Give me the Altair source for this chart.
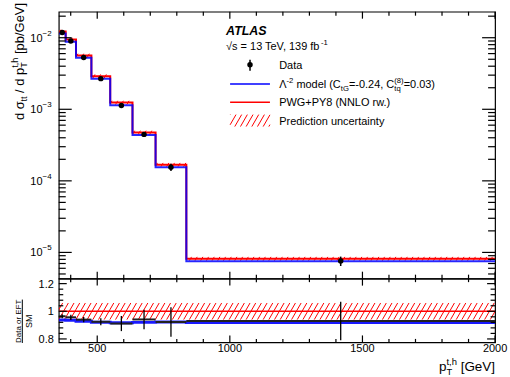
import altair as alt
import numpy as np
import pandas as pd

FONT = "Liberation Sans"

# ---- binning in p_T^{t,h} and cross sections [pb/GeV] ----
edges = [355, 381, 420, 478, 549, 633, 720, 836, 2000]
data_xs = [0.0118, 0.0090, 0.0053, 0.00268, 0.00113, 4.46e-4, 1.55e-4, 7.6e-6]
data_rel_err = [0.015, 0.020, 0.020, 0.027, 0.060, 0.075, 0.115, 0.150]
sm_xs = [0.01224, 0.00941, 0.00564, 0.00290, 0.00124, 4.74e-4, 1.68e-4, 8.17e-6]
sm_rel_unc = [0.06, 0.06, 0.06, 0.06, 0.06, 0.06, 0.06, 0.06]
eft_xs = [0.01147, 0.00880, 0.00523, 0.00267, 0.001138, 4.36e-4, 1.55e-4, 7.50e-6]

# ---- axis ticks and labels ----
x_major = [500, 1000, 1500, 2000]
x_minor = [400, 600, 700, 800, 900, 1100, 1200, 1300, 1400, 1600, 1700, 1800, 1900]
x_label_vals = [500, 1000, 1500, 2000]
x_label_text = ["500", "1000", "1500", "2000"]
y_major = [1e-5, 1e-4, 1e-3, 1e-2]
y_major_exp = ["\u22125", "\u22124", "\u22123", "\u22122"]
y_minor = [5e-6, 6e-6, 7e-6, 8e-6, 9e-6,
           2e-5, 3e-5, 4e-5, 5e-5, 6e-5, 7e-5, 8e-5, 9e-5,
           2e-4, 3e-4, 4e-4, 5e-4, 6e-4, 7e-4, 8e-4, 9e-4,
           2e-3, 3e-3, 4e-3, 5e-3, 6e-3, 7e-3, 8e-3, 9e-3,
           2e-2]
r_major = [0.8, 1.0, 1.2]
r_major_text = ["0.8", "1", "1.2"]
r_minor = [0.84, 0.88, 0.92, 0.96, 1.04, 1.08, 1.12, 1.16]

# ---- panel geometry ----
W, H, RH = 438, 268, 64
X_DOM = [355, 2000]
Y_DOM = [4.3e-6, 0.0231]
R_DOM = [0.775, 1.236]

XS = alt.Scale(domain=X_DOM, nice=False, zero=False)
YS = alt.Scale(type="log", domain=Y_DOM, nice=False)
RS = alt.Scale(domain=R_DOM, nice=False, zero=False)

RED = "#ff0000"
BLUE = "#0000ff"
ONE = pd.DataFrame({"k": [0]})

# ---- text helpers (Arial-metric advance widths, per em) ----
CW = {" ": .278, "(": .333, ")": .333, "+": .584, ",": .278, "-": .333,
      ".": .278, "/": .278, "=": .584, "[": .278, "]": .278, "\u2212": .584,
      "\u039b": .667, "\u03c3": .6, "\u221a": .45,
      "A": .667, "C": .722, "D": .722, "E": .667, "F": .611, "G": .778, "L": .556,
      "M": .833, "N": .722, "O": .778, "P": .667, "S": .667, "T": .611, "V": .667,
      "W": .944, "Y": .667,
      "a": .556, "b": .556, "c": .5, "d": .556, "e": .556, "f": .278, "g": .556,
      "h": .556, "i": .222, "k": .5, "l": .222, "m": .833, "n": .556, "o": .556,
      "p": .556, "q": .556, "r": .333, "s": .5, "t": .278, "u": .556, "v": .5,
      "w": .722, "x": .5, "y": .5}


def text_width(s, size):
    return sum(CW.get(ch, 0.556) for ch in s) * size


def piece(text, x, y, size, angle=0, weight="normal", style="normal",
          align="left", baseline="alphabetic", color="black"):
    return alt.Chart(ONE).mark_text(
        text=text, fontSize=size, font=FONT, angle=angle, fontWeight=weight,
        fontStyle=style, align=align, baseline=baseline, color=color,
    ).encode(x=alt.value(x), y=alt.value(y))


def rich_items(parts, size):
    ss = size * 0.7
    out = []
    for p in parts:
        kind = p[0]
        if kind == "n":
            out.append(([(p[1], size, 0.0)], text_width(p[1], size)))
        elif kind == "sub":
            out.append(([(p[1], ss, size * 0.3)], text_width(p[1], ss)))
        elif kind == "sup":
            out.append(([(p[1], ss, -size * 0.42)], text_width(p[1], ss)))
        else:  # stacked sub + sup
            out.append(([(p[1], ss, size * 0.3), (p[2], ss, -size * 0.45)],
                        max(text_width(p[1], ss), text_width(p[2], ss))))
    return out


def rich_width(parts, size):
    return sum(w for _, w in rich_items(parts, size))


def rich(parts, x, y, size, angle=0):
    """Lay out text runs with sub/superscripts; leading blanks become an offset."""
    layers, adv = [], 0.0
    for items, w in rich_items(parts, size):
        for t, s, off in items:
            stripped = t.lstrip(" ")
            lead = text_width(t[: len(t) - len(stripped)], s)
            stripped = stripped.rstrip(" ")
            if angle == 0:
                layers.append(piece(stripped, x + adv + lead, y + off, s))
            else:  # reads bottom-to-top
                layers.append(piece(stripped, x + off, y - adv - lead, s, angle=270))
        adv += w
    return layers


# ---- pixel mapping, used to lay out the hatching of uncertainty bands ----
def px_x(v):
    return (v - X_DOM[0]) / (X_DOM[1] - X_DOM[0]) * W


def inv_x(p):
    return X_DOM[0] + p / W * (X_DOM[1] - X_DOM[0])


LY0, LY1 = np.log10(Y_DOM[0]), np.log10(Y_DOM[1])


def px_log(v):
    return H * (LY1 - np.log10(v)) / (LY1 - LY0)


def inv_log(p):
    return 10 ** (LY1 - p / H * (LY1 - LY0))


def px_lin(v):
    return RH * (R_DOM[1] - v) / (R_DOM[1] - R_DOM[0])


def inv_lin(p):
    return R_DOM[1] - p / RH * (R_DOM[1] - R_DOM[0])


SP = 5.7                      # hatch spacing in px
SLOPE = np.tan(np.radians(60))


def hatch_segments(xl, xr, ytop, ybot):
    """Clip '/' hatch lines to the pixel box [xl,xr] x [ytop,ybot]."""
    dx = (ybot - ytop) / SLOPE
    segs = []
    k0 = int(np.floor((xl - dx) / SP)) - 1
    k1 = int(np.ceil(xr / SP)) + 1
    for k in range(k0, k1 + 1):
        p = k * SP
        t0 = max(0.0, (xl - p) / dx)
        t1 = min(1.0, (xr - p) / dx)
        if t1 - t0 > 1e-6:
            segs.append((p + t0 * dx, ybot - t0 * (ybot - ytop),
                         p + t1 * dx, ybot - t1 * (ybot - ytop)))
    return segs


# ---- derived tables ----
centers = [(a + b) / 2 for a, b in zip(edges[:-1], edges[1:])]
bins = pd.DataFrame({
    "lo": edges[:-1], "hi": edges[1:], "c": centers,
    "data": data_xs,
    "dlo": [d * (1 - e) for d, e in zip(data_xs, data_rel_err)],
    "dhi": [d * (1 + e) for d, e in zip(data_xs, data_rel_err)],
    "r": [d / s for d, s in zip(data_xs, sm_xs)],
    "rlo": [d / s - d * e / s for d, s, e in zip(data_xs, sm_xs, data_rel_err)],
    "rhi": [d / s + d * e / s for d, s, e in zip(data_xs, sm_xs, data_rel_err)],
})
steps = pd.DataFrame({
    "x": edges,
    "sm": sm_xs + [sm_xs[-1]],
    "eft": eft_xs + [eft_xs[-1]],
    "one": [s / s for s in sm_xs] + [1.0],
    "reft": [e / s for e, s in zip(eft_xs, sm_xs)] + [eft_xs[-1] / sm_xs[-1]],
})

main_hatch, ratio_hatch = [], []
for lo, hi, s, u in zip(edges[:-1], edges[1:], sm_xs, sm_rel_unc):
    for a, b, c, d in hatch_segments(px_x(lo), px_x(hi),
                                     px_log(s * (1 + u)), px_log(s * (1 - u))):
        main_hatch.append((inv_x(a), inv_log(b), inv_x(c), inv_log(d)))
    for a, b, c, d in hatch_segments(px_x(lo), px_x(hi),
                                     px_lin(1 + u), px_lin(1 - u)):
        ratio_hatch.append((inv_x(a), inv_lin(b), inv_x(c), inv_lin(d)))
main_hatch = pd.DataFrame(main_hatch, columns=["x", "y", "x2", "y2"])
ratio_hatch = pd.DataFrame(ratio_hatch, columns=["x", "y", "x2", "y2"])


def xq(field):
    return alt.X(field, type="quantitative", scale=XS, axis=None)


def yq(field, scale):
    return alt.Y(field, type="quantitative", scale=scale, axis=None)


TW = 1.2  # tick stroke width

# ================= main panel =================
m = []
# anchor for the top-left margin
m.append(alt.Chart(ONE).mark_rule(strokeOpacity=0).encode(
    x=alt.value(-58), x2=alt.value(-58), y=alt.value(-10), y2=alt.value(-6)))

m.append(alt.Chart(main_hatch).mark_rule(color=RED, strokeWidth=1, clip=True).encode(
    x=xq("x"), x2="x2", y=yq("y", YS), y2="y2"))
m.append(alt.Chart(steps).mark_line(interpolate="step-after", color=RED, strokeWidth=2,
                                    clip=True).encode(x=xq("x"), y=yq("sm", YS)))
m.append(alt.Chart(steps).mark_line(interpolate="step-after", color=BLUE, strokeWidth=2,
                                    opacity=0.85, clip=True).encode(x=xq("x"), y=yq("eft", YS)))
m.append(alt.Chart(bins).mark_rule(color="black", strokeWidth=1.5).encode(
    x=xq("c"), y=yq("dlo", YS), y2="dhi"))
m.append(alt.Chart(bins).mark_circle(color="black", size=30, opacity=1).encode(
    x=xq("c"), y=yq("data", YS)))

# inward ticks
ym = pd.DataFrame({"v": y_major, "e": y_major_exp})
yn = pd.DataFrame({"v": y_minor})
xm = pd.DataFrame({"v": x_major})
xn = pd.DataFrame({"v": x_minor})
for df, ln in ((ym, 13), (yn, 7)):
    m.append(alt.Chart(df).mark_rule(color="black", strokeWidth=TW).encode(
        y=yq("v", YS), x=alt.value(0), x2=alt.value(ln)))
    m.append(alt.Chart(df).mark_rule(color="black", strokeWidth=TW).encode(
        y=yq("v", YS), x=alt.value(W - ln), x2=alt.value(W)))
for df, ln in ((xm, 7), (xn, 4)):
    m.append(alt.Chart(df).mark_rule(color="black", strokeWidth=TW).encode(
        x=xq("v"), y=alt.value(0), y2=alt.value(ln)))
    m.append(alt.Chart(df).mark_rule(color="black", strokeWidth=TW).encode(
        x=xq("v"), y=alt.value(H - ln), y2=alt.value(H)))

# power-of-ten tick labels
m.append(alt.Chart(ym).mark_text(text="10", font=FONT, fontSize=11, align="right",
                                 baseline="middle", color="black", dy=1).encode(
    y=yq("v", YS), x=alt.value(-16.3)))
m.append(alt.Chart(ym).mark_text(font=FONT, fontSize=8, align="left",
                                 baseline="middle", color="black", dy=-4).encode(
    y=yq("v", YS), x=alt.value(-16.3), text="e:N"))

# y title
yt_parts = [("n", "d \u03c3"), ("sub", "tt"), ("n", " / d p"), ("subsup", "T", "t,h"),
            ("n", " [pb/GeV]")]
yt_size = 13
m += rich(yt_parts, -35.3, 50 + rich_width(yt_parts, yt_size) / 2, yt_size, angle=270)

# ATLAS label
m.append(piece("ATLAS", 168, 23.3, 12.5, weight="bold", style="italic"))
m += rich([("n", "\u221as = 13 TeV, 139 fb"), ("sup", "-1")], 168, 38.3, 11)

# legend
LX = 221.3
rows = [53.3, 72.7, 91.0, 109.3]
m.append(alt.Chart(ONE).mark_rule(color="black", strokeWidth=1.5).encode(
    x=alt.value(192), y=alt.value(48.3), y2=alt.value(59.3)))
m.append(alt.Chart(ONE).mark_circle(color="black", size=30, opacity=1).encode(
    x=alt.value(192), y=alt.value(rows[0])))
m.append(alt.Chart(ONE).mark_rule(color=BLUE, strokeWidth=1.5).encode(
    x=alt.value(172), x2=alt.value(212), y=alt.value(rows[1])))
m.append(alt.Chart(ONE).mark_rule(color=RED, strokeWidth=1.5).encode(
    x=alt.value(172), x2=alt.value(212), y=alt.value(rows[2])))
for a, b, c, d in hatch_segments(172, 212, rows[3] - 6, rows[3] + 6):
    m.append(alt.Chart(ONE).mark_rule(color=RED, strokeWidth=1).encode(
        x=alt.value(a), y=alt.value(b), x2=alt.value(c), y2=alt.value(d)))
m.append(piece("Data", LX, rows[0] + 4, 11))
m += rich([("n", "\u039b"), ("sup", "-2"), ("n", " model (C"), ("sub", "tG"),
           ("n", "=-0.24, C"), ("subsup", "tq", "(8)"), ("n", "=0.03)")],
          LX, rows[1] + 4, 11)
m.append(piece("PWG+PY8 (NNLO rw.)", LX, rows[2] + 4, 11))
m.append(piece("Prediction uncertainty", LX, rows[3] + 4, 11))

main = alt.layer(*m).properties(width=W, height=H)

# ================= ratio panel =================
r = []
r.append(alt.Chart(ONE).mark_rule(strokeOpacity=0).encode(
    x=alt.value(W + 14), x2=alt.value(W + 14), y=alt.value(RH + 31), y2=alt.value(RH + 35)))
r.append(alt.Chart(ratio_hatch).mark_rule(color=RED, strokeWidth=1, clip=True).encode(
    x=xq("x"), x2="x2", y=yq("y", RS), y2="y2"))
r.append(alt.Chart(steps).mark_line(interpolate="step-after", color=RED, strokeWidth=1.5,
                                    clip=True).encode(x=xq("x"), y=yq("one", RS)))
r.append(alt.Chart(steps).mark_line(interpolate="step-after", color=BLUE, strokeWidth=3,
                                    opacity=0.9, clip=True).encode(x=xq("x"), y=yq("reft", RS)))
r.append(alt.Chart(bins).mark_rule(color="#222222", strokeWidth=2).encode(
    x=xq("lo"), x2="hi", y=yq("r", RS)))
r.append(alt.Chart(bins).mark_rule(color="black", strokeWidth=1.3).encode(
    x=xq("c"), y=yq("rlo", RS), y2="rhi"))

rm = pd.DataFrame({"v": r_major, "t": r_major_text})
rn = pd.DataFrame({"v": r_minor})
xl = pd.DataFrame({"v": x_label_vals, "t": x_label_text})
r.append(alt.Chart(rm).mark_rule(color="black", strokeWidth=TW).encode(
    y=yq("v", RS), x=alt.value(0), x2=alt.value(8)))
r.append(alt.Chart(rm).mark_rule(color="black", strokeWidth=TW).encode(
    y=yq("v", RS), x=alt.value(W - 8), x2=alt.value(W)))
r.append(alt.Chart(rn).mark_rule(color="black", strokeWidth=TW).encode(
    y=yq("v", RS), x=alt.value(0), x2=alt.value(4.5)))
r.append(alt.Chart(rn).mark_rule(color="black", strokeWidth=TW).encode(
    y=yq("v", RS), x=alt.value(W - 4.5), x2=alt.value(W)))
r.append(alt.Chart(xm).mark_rule(color="black", strokeWidth=TW).encode(
    x=xq("v"), y=alt.value(0), y2=alt.value(7)))
r.append(alt.Chart(xm).mark_rule(color="black", strokeWidth=TW).encode(
    x=xq("v"), y=alt.value(RH - 7), y2=alt.value(RH)))
r.append(alt.Chart(xn).mark_rule(color="black", strokeWidth=TW).encode(
    x=xq("v"), y=alt.value(0), y2=alt.value(3.5)))
r.append(alt.Chart(xn).mark_rule(color="black", strokeWidth=TW).encode(
    x=xq("v"), y=alt.value(RH - 3.5), y2=alt.value(RH)))

# tick labels of the ratio panel
r.append(alt.Chart(rm).mark_text(font=FONT, fontSize=11, align="right", baseline="middle",
                                 color="black", dy=1).encode(
    y=yq("v", RS), x=alt.value(-5), text="t:N"))
r.append(alt.Chart(xl).mark_text(font=FONT, fontSize=11, align="center",
                                 baseline="alphabetic", color="black").encode(
    x=xq("v"), y=alt.value(RH + 9.5), text="t:N"))

# ratio y title: fraction "Data or EFT" over "SM"
num, num_size = "Data or EFT", 8
num_w = text_width(num, num_size)
r.append(piece(num, -38, 42.8 + num_w / 2, num_size, angle=270))
r.append(alt.Chart(ONE).mark_rule(color="black", strokeWidth=1).encode(
    x=alt.value(-36.6), y=alt.value(42.8 - num_w / 2), y2=alt.value(42.8 + num_w / 2)))
den_w = text_width("SM", 9)
r.append(piece("SM", -26.5, 42.8 + den_w / 2, 9, angle=270))

# x title
xt_parts = [("n", "p"), ("subsup", "T", "t,h"), ("n", " [GeV]")]
xt_size = 13.5
r += rich(xt_parts, W - rich_width(xt_parts, xt_size), 92.7, xt_size)

ratio = alt.layer(*r).properties(width=W, height=RH)

chart = alt.vconcat(main, ratio, spacing=0, bounds="flush").properties(
    padding=0
).configure_view(stroke="black", strokeWidth=1.2)

chart.save("out.html", embed_options={"renderer": "svg", "actions": False})
